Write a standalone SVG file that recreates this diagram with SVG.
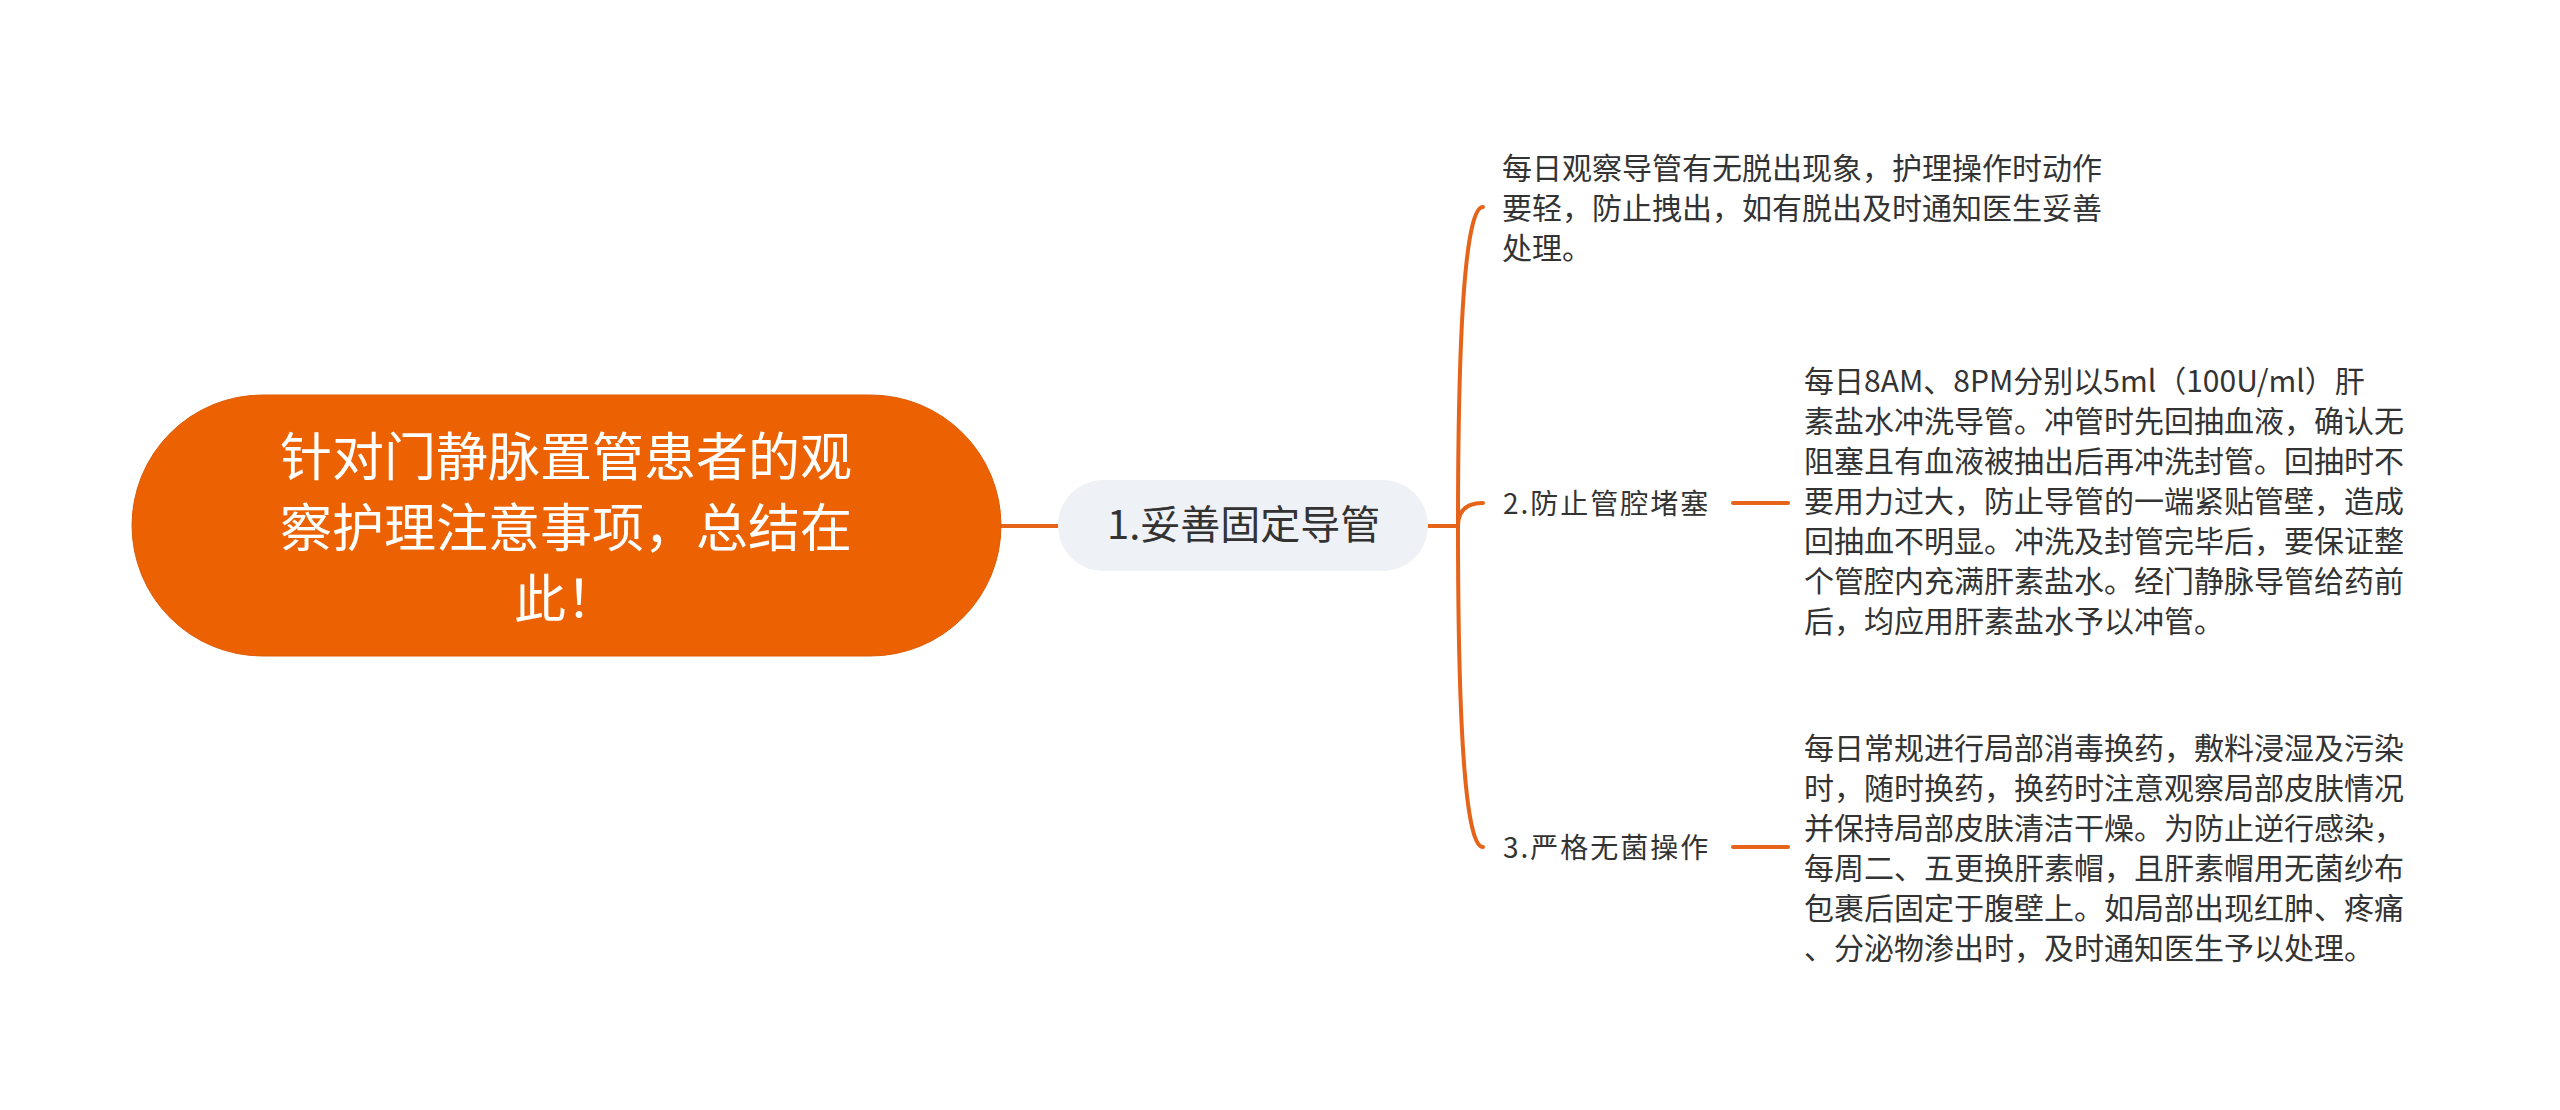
<svg xmlns="http://www.w3.org/2000/svg" width="2560" height="1110" viewBox="0 0 2560 1110">
<style>
  text { font-family: "Noto Sans CJK SC", "Noto Sans", sans-serif; }
  .root-text { fill: #ffffff; font-size: 52px; text-anchor: middle; }
  .n1-text { fill: #333333; font-size: 40px; }
  .label { fill: #333333; font-size: 28px; letter-spacing: 2px; }
  .leaf { fill: #333333; font-size: 30px; }
  .conn { fill: none; stroke: #E6631A; stroke-width: 4; stroke-linecap: round; }
</style>
<rect width="2560" height="1110" fill="#ffffff"/>

<g id="connectors">
  <line class="conn" x1="1001" y1="526" x2="1058" y2="526"/>
  <line class="conn" x1="1428" y1="526" x2="1458" y2="526"/>
  <path class="conn" d="M1458 526 Q1458 207 1483 207"/>
  <path class="conn" d="M1458 526 Q1458 503 1483 503"/>
  <path class="conn" d="M1458 526 Q1458 847 1483 847"/>
  <line class="conn" x1="1733" y1="503" x2="1788" y2="503"/>
  <line class="conn" x1="1733" y1="847" x2="1788" y2="847"/>
</g>

<g id="root">
  <rect x="132" y="395" width="869" height="261" rx="130.5" ry="130.5" fill="#EC6101" stroke="#DD5C05" stroke-width="1"/>
  <text class="root-text" x="566" y="476">针对门静脉置管患者的观</text>
  <text class="root-text" x="566" y="547">察护理注意事项，总结在</text>
  <text class="root-text" x="566" y="618">此！</text>
</g>

<g id="node1">
  <rect x="1058" y="480" width="370" height="91" rx="45.5" ry="45.5" fill="#EEF1F5"/>
  <text class="n1-text" x="1107" y="539">1.妥善固定导管</text>
</g>

<g id="leaf1">
  <text class="leaf" x="1502" y="179">每日观察导管有无脱出现象，护理操作时动作</text>
  <text class="leaf" x="1502" y="219">要轻，防止拽出，如有脱出及时通知医生妥善</text>
  <text class="leaf" x="1502" y="259">处理。</text>
</g>

<g id="node2">
  <text class="label" x="1503" y="514">2.防止管腔堵塞</text>
</g>

<g id="leaf2">
  <text class="leaf" x="1804" y="392">每日8AM、8PM分别以5ml（100U/ml）肝</text>
  <text class="leaf" x="1804" y="432">素盐水冲洗导管。冲管时先回抽血液，确认无</text>
  <text class="leaf" x="1804" y="472">阻塞且有血液被抽出后再冲洗封管。回抽时不</text>
  <text class="leaf" x="1804" y="512">要用力过大，防止导管的一端紧贴管壁，造成</text>
  <text class="leaf" x="1804" y="552">回抽血不明显。冲洗及封管完毕后，要保证整</text>
  <text class="leaf" x="1804" y="592">个管腔内充满肝素盐水。经门静脉导管给药前</text>
  <text class="leaf" x="1804" y="632">后，均应用肝素盐水予以冲管。</text>
</g>

<g id="node3">
  <text class="label" x="1503" y="858">3.严格无菌操作</text>
</g>

<g id="leaf3">
  <text class="leaf" x="1804" y="759">每日常规进行局部消毒换药，敷料浸湿及污染</text>
  <text class="leaf" x="1804" y="799">时，随时换药，换药时注意观察局部皮肤情况</text>
  <text class="leaf" x="1804" y="839">并保持局部皮肤清洁干燥。为防止逆行感染，</text>
  <text class="leaf" x="1804" y="879">每周二、五更换肝素帽，且肝素帽用无菌纱布</text>
  <text class="leaf" x="1804" y="919">包裹后固定于腹壁上。如局部出现红肿、疼痛</text>
  <text class="leaf" x="1804" y="959">、分泌物渗出时，及时通知医生予以处理。</text>
</g>
</svg>
